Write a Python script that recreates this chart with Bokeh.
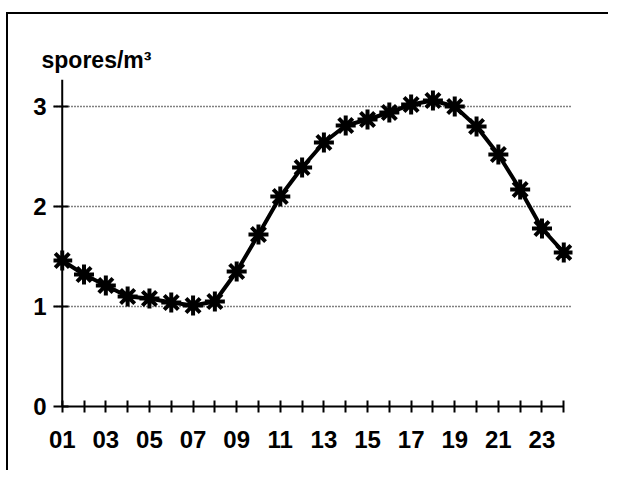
from bokeh.plotting import figure
from bokeh.models import Range1d, FixedTicker, Spacer, Span
from bokeh.layouts import column, row
from bokeh.embed import file_html
from bokeh.resources import INLINE

hours = list(range(1, 25))
spores = [1.46, 1.32, 1.21, 1.10, 1.08, 1.04, 1.01, 1.05, 1.35, 1.72, 2.10, 2.39,
          2.64, 2.81, 2.87, 2.94, 3.02, 3.06, 3.00, 2.80, 2.52, 2.17, 1.78, 1.54]
labelled_hours = [h for h in hours if h % 2 == 1]
other_hours = [h for h in hours if h % 2 == 0]
x_tick_labels = {h: f"{h:02d}" for h in labelled_hours}
y_ticks = [0, 1, 2, 3]
grid_ticks = [1, 2, 3]
unit_label = "spores/m³"

FONT = "Liberation Sans"

p = figure(width=602, height=458, output_backend="svg", toolbar_location=None,
           x_range=Range1d(0.6, 24.4), y_range=Range1d(0, 3.27),
           min_border_left=45, min_border_right=38, min_border_top=65, min_border_bottom=66)
p.styles = {"border-top": "2px solid black", "border-left": "2px solid black"}
p.outline_line_color = None
p.background_fill_color = "white"
p.border_fill_color = "white"

p.title.text = unit_label
p.title.text_font = FONT
p.title.text_font_style = "bold"
p.title.text_font_size = "23px"
p.title.text_color = "black"
p.title.align = "left"
p.title.offset = -12
p.title.standoff = 14

# axes
p.xaxis.bounds = (1, 24)
p.xaxis.ticker = FixedTicker(ticks=labelled_hours, minor_ticks=other_hours)
p.xaxis.major_label_overrides = x_tick_labels
p.yaxis.ticker = FixedTicker(ticks=y_ticks)
for ax in (p.xaxis, p.yaxis):
    ax.axis_line_color = "black"
    ax.axis_line_width = 2
    ax.major_tick_line_color = "black"
    ax.major_tick_line_width = 2
    ax.major_tick_in = 6
    ax.major_tick_out = 6
    ax.major_label_text_font = FONT
    ax.major_label_text_font_style = "bold"
    ax.major_label_text_font_size = "24px"
    ax.major_label_text_color = "black"
p.xaxis.minor_tick_line_color = "black"
p.xaxis.minor_tick_line_width = 2
p.xaxis.minor_tick_in = 6
p.xaxis.minor_tick_out = 6
p.xaxis.major_label_standoff = 18
# y axis: the visible line is a span through hour 01
p.yaxis.axis_line_color = None
p.yaxis.minor_tick_line_color = None
p.yaxis.major_tick_out = 0
p.yaxis.major_tick_in = 15
p.yaxis.major_label_standoff = 7
p.add_layout(Span(location=hours[0], dimension="height", line_color="black", line_width=2))

p.xgrid.grid_line_color = None
p.ygrid.ticker = FixedTicker(ticks=grid_ticks)
p.ygrid.bounds = (1, 24)
p.ygrid.grid_line_color = "black"
p.ygrid.grid_line_dash = "1 2"
p.ygrid.grid_line_width = 1.5

p.line(hours, spores, line_color="black", line_width=4)
p.scatter(hours, spores, marker="asterisk", size=20, line_color="black", line_width=4)

layout = row(Spacer(width=6, height=10), column(Spacer(height=12, width=10), p))
open("out.html", "w").write(file_html(layout, INLINE))
